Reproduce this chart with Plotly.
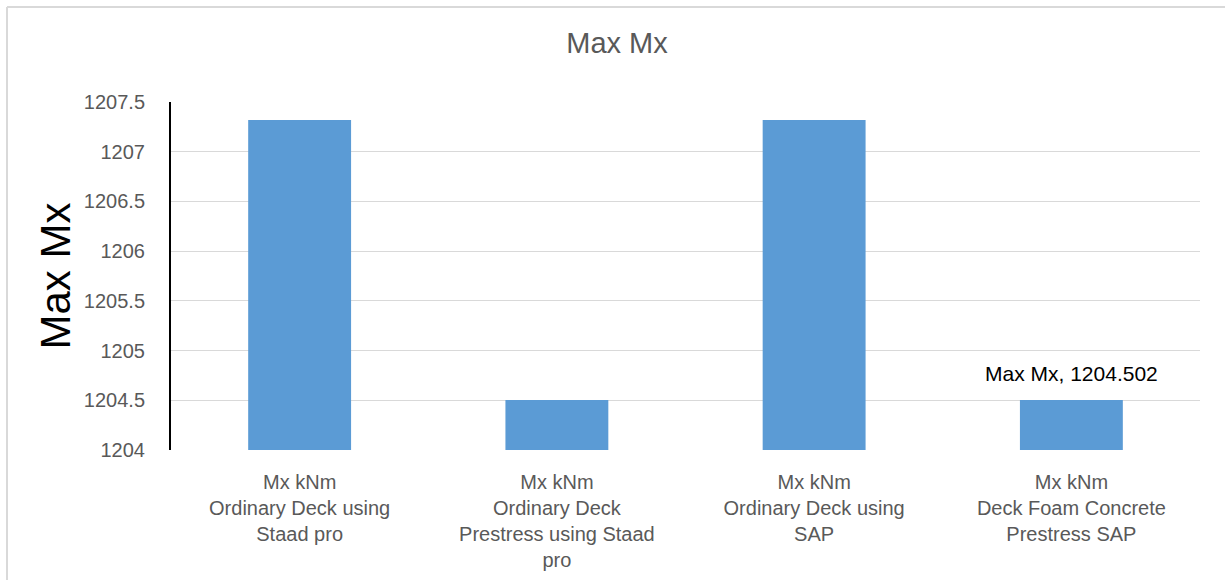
import plotly.graph_objects as go

categories = [
    "Mx kNm<br>Ordinary Deck using<br>Staad pro",
    "Mx kNm<br>Ordinary Deck<br>Prestress using Staad<br>pro",
    "Mx kNm<br>Ordinary Deck using<br>SAP",
    "Mx kNm<br>Deck Foam Concrete<br>Prestress SAP",
]
values = [1207.32, 1204.502, 1207.32, 1204.502]
tick_vals = [1204, 1204.5, 1205, 1205.5, 1206, 1206.5, 1207, 1207.5]
tick_text = ["1204", "1204.5", "1205", "1205.5", "1206", "1206.5", "1207", "1207.5"]
series_name = "Max Mx"

W, H = 1225, 580
ml, mr, mt, mb = 171, 25, 102, 130
FONT = "Liberation Sans"

fig = go.Figure()
fig.add_trace(go.Bar(
    x=categories, y=values,
    marker=dict(color="#5b9bd5", line=dict(width=0)),
    width=0.4, name=series_name, showlegend=False,
))

fig.add_annotation(
    x=categories[3], y=values[3], text=f"{series_name}, {values[3]}",
    showarrow=False, yanchor="bottom", yshift=13,
    font=dict(size=21, color="#000000", family=FONT),
)

fx0 = -(ml - 7) / (W - ml - mr)
fx1 = (W - ml) / (W - ml - mr)
fy1 = 1 + (mt - 7) / (H - mt - mb)
fy0 = -mb / (H - mt - mb)

fig.update_layout(
    width=W, height=H,
    margin=dict(l=ml, r=mr, t=mt, b=mb, autoexpand=False),
    paper_bgcolor="white", plot_bgcolor="white",
    font=dict(family=FONT, color="#595959"),
    title=dict(text="Max Mx", x=617 / W, xanchor="center", xref="container",
               y=1 - 43 / H, yanchor="middle", yref="container",
               font=dict(size=29, color="#595959", family=FONT)),
    xaxis=dict(showgrid=False, showline=False, tickfont=dict(size=20, color="#595959"),
               ticks="", ticklabelstandoff=18, automargin=False),
    yaxis=dict(range=[1204, 1207.5], tickvals=tick_vals, ticktext=tick_text,
               showgrid=True, gridcolor="#d9d9d9", gridwidth=1,
               showline=True, linecolor="#000000", linewidth=2,
               zeroline=False, ticks="", ticklabelstandoff=20, automargin=False,
               tickfont=dict(size=20, color="#595959"),
               title=dict(text="Max Mx", font=dict(size=42, color="#000000", family=FONT),
                          standoff=0)),
    shapes=[
        dict(type="line", xref="paper", yref="paper", x0=fx0, x1=fx1, y0=fy1, y1=fy1,
             line=dict(color="#d9d9d9", width=2)),
        dict(type="line", xref="paper", yref="paper", x0=fx0, x1=fx0, y0=fy1, y1=fy0,
             line=dict(color="#d9d9d9", width=2)),
    ],
)

fig.write_html("out.html")
